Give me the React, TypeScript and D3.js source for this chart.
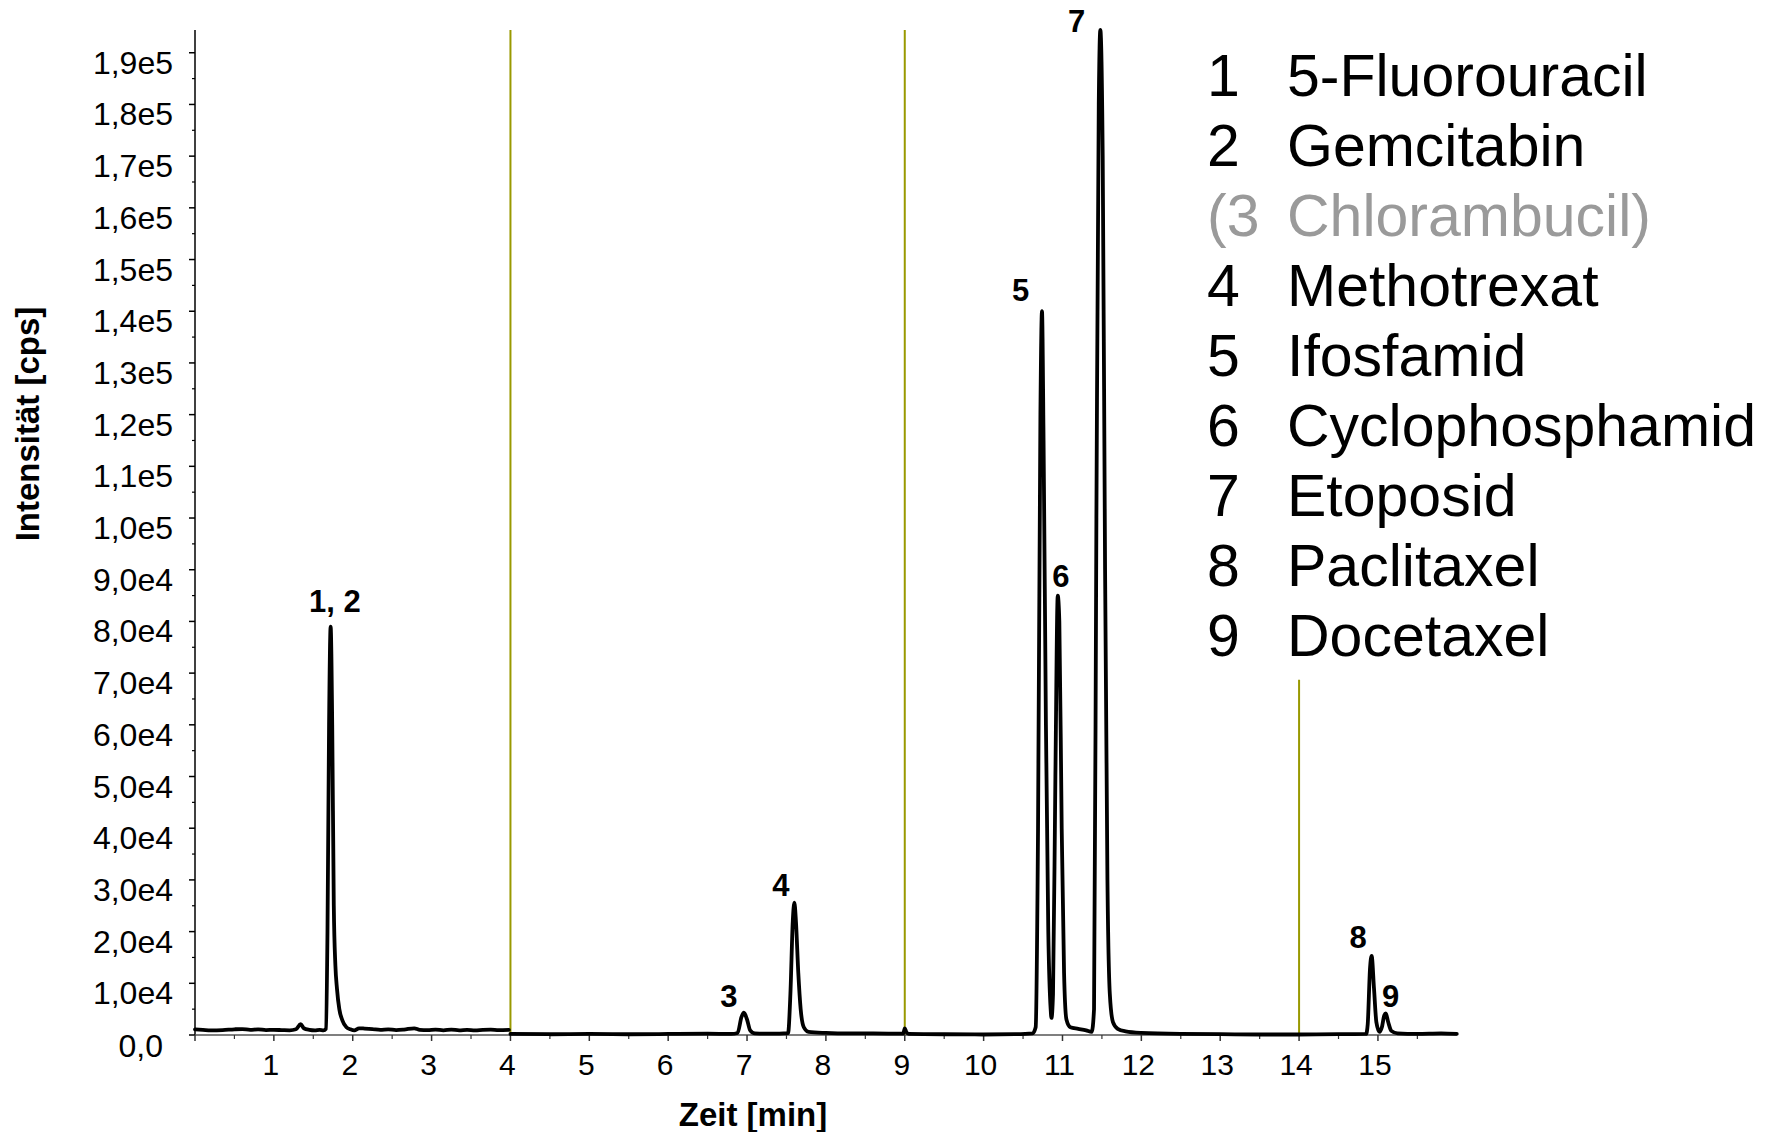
import React from "react";
import * as d3 from "d3";

const W = 1766;
const H = 1132;

// Chromatogram segment 0–4 min (time in min, intensity in cps)
const segATime = [
  0.0, 0.1, 0.2, 0.35, 0.5, 0.6, 0.7, 0.8, 0.9, 1.0, 1.1, 1.2, 1.28, 1.34, 1.38, 1.45, 1.52, 1.58, 1.63,
  1.66, 1.68, 1.7, 1.72, 1.74, 1.76, 1.78, 1.8, 1.83, 1.87, 1.92, 1.97, 2.02, 2.08, 2.15, 2.25, 2.35,
  2.45, 2.55, 2.65, 2.78, 2.85, 2.95, 3.05, 3.15, 3.25, 3.35, 3.45, 3.55, 3.65, 3.75, 3.85, 3.98,
];
const segAIntensity = [
  1100, 1000, 900, 950, 1100, 1150, 1000, 1100, 950, 1000, 950, 900, 1100, 2100, 1300, 1000, 900, 1000, 900,
  1200, 20000, 60000, 79000, 60000, 25000, 13500, 9000, 5000, 2800, 1500, 1100, 900, 1300, 1250, 1150, 1000,
  1100, 950, 1050, 1300, 1000, 950, 1050, 900, 1050, 900, 1000, 900, 1000, 1050, 950, 1000,
];

// Chromatogram segment 4–16 min
const segBTime = [
  4.0, 4.5, 5.0, 5.5, 6.0, 6.5, 6.8, 6.88, 6.93, 6.96, 7.0, 7.04, 7.1, 7.3, 7.52, 7.55, 7.58, 7.6, 7.62,
  7.65, 7.68, 7.72, 7.78, 8.0, 8.3, 8.6, 8.98, 9.0, 9.02, 9.05, 9.5, 10.0, 10.4, 10.62, 10.66, 10.69, 10.72,
  10.74, 10.76, 10.79, 10.82, 10.85, 10.86, 10.88, 10.91, 10.94, 10.96, 10.99, 11.02, 11.05, 11.1, 11.2,
  11.3, 11.37, 11.4, 11.43, 11.46, 11.48, 11.51, 11.54, 11.57, 11.6, 11.64, 11.7, 11.8, 12.0, 12.5, 13.0,
  13.5, 14.0, 14.5, 14.85, 14.87, 14.9, 14.92, 14.95, 14.98, 15.02, 15.05, 15.08, 15.1, 15.13, 15.17,
  15.25, 15.5, 15.8, 16.0,
];
const segBIntensity = [
  200, 150, 200, 150, 200, 250, 200, 400, 3500, 4300, 3000, 900, 300, 250, 350, 8000, 22000, 25600, 22000,
  12000, 5000, 1500, 600, 400, 300, 300, 250, 1300, 600, 200, 150, 100, 150, 300, 1500, 40000, 120000,
  140000, 115000, 60000, 20000, 5000, 3300, 8000, 50000, 85000, 80000, 40000, 12000, 3000, 1500, 1200,
  900, 600, 5000, 100000, 180000, 194400, 170000, 90000, 30000, 8000, 2500, 1200, 700, 400, 200, 150,
  100, 100, 150, 200, 2000, 13000, 15300, 9000, 2500, 600, 1500, 3800, 4200, 2500, 800,
  300, 200, 300, 200,
];

const xMajorTicks = [0, 1, 2, 3, 4, 5, 6, 7, 8, 9, 10, 11, 12, 13, 14, 15];
const xMinorTicks = [0.5, 1.5, 2.5, 3.5, 4.5, 5.5, 6.5, 7.5, 8.5, 9.5, 10.5, 11.5, 12.5, 13.5, 14.5, 15.5];
const yMajorTicks = [
  0, 10000, 20000, 30000, 40000, 50000, 60000, 70000, 80000, 90000, 100000, 110000, 120000, 130000,
  140000, 150000, 160000, 170000, 180000, 190000,
];
const yMinorTicks = [
  5000, 15000, 25000, 35000, 45000, 55000, 65000, 75000, 85000, 95000, 105000, 115000, 125000, 135000,
  145000, 155000, 165000, 175000, 185000,
];

const peakLabels = ["1, 2", "3", "4", "5", "6", "7", "8", "9"];
const peakLabelTime = [1.775, 6.77, 7.43, 10.47, 10.98, 11.18, 14.75, 15.16];
const peakLabelIntensity = [81900, 5400, 26900, 141900, 86700, 194000, 16800, 5400];

const legendNumbers = ["1", "2", "(3", "4", "5", "6", "7", "8", "9"];
const legendNames = [
  "5-Fluorouracil",
  "Gemcitabin",
  "Chlorambucil)",
  "Methotrexat",
  "Ifosfamid",
  "Cyclophosphamid",
  "Etoposid",
  "Paclitaxel",
  "Docetaxel",
];
const legendMuted = [false, false, true, false, false, false, false, false, false];

const markerTimes = [4, 9, 14];
const markerTopIntensity = [194400, 194400, 68700];

const FONT = "'Liberation Sans', Arial, Helvetica, sans-serif";

function fmtY(v: number): string {
  if (v === 0) return "0,0";
  if (v >= 100000) return (v / 100000).toFixed(1).replace(".", ",") + "e5";
  return (v / 10000).toFixed(1).replace(".", ",") + "e4";
}

export default function App() {
  const x = d3.scaleLinear().domain([0, 16]).range([195, 1456.8]);
  const y = d3.scaleLinear().domain([0, 194400]).range([1035, 30]);

  const line = d3
    .line<[number, number]>()
    .x((d) => x(d[0]))
    .y((d) => y(d[1]))
    .curve(d3.curveMonotoneX);

  const segA: [number, number][] = segATime.map((t, i) => [t, segAIntensity[i]]);
  const segB: [number, number][] = segBTime.map((t, i) => [t, segBIntensity[i]]);

  const [x0, x1] = x.range();
  const yBase = y(0);
  const yTop = y.range()[1];

  return (
    <svg
      width={W}
      height={H}
      viewBox={`0 0 ${W} ${H}`}
      style={{ position: "absolute", left: 0, top: 0, display: "block", background: "#fff" }}
      fontFamily={FONT}
    >
      <rect x={0} y={0} width={W} height={H} fill="#fff" />

      {/* olive segment markers */}
      {markerTimes.map((t, i) => (
        <line
          key={"m" + i}
          x1={x(t)}
          x2={x(t)}
          y1={y(markerTopIntensity[i])}
          y2={yBase}
          stroke="#999900"
          strokeWidth={2}
        />
      ))}

      {/* y axis */}
      <line x1={x0} x2={x0} y1={yTop} y2={yBase} stroke="#000" strokeWidth={1.5} />
      {yMajorTicks.map((v) => (
        <g key={"ym" + v}>
          <line x1={x0 - 6} x2={x0} y1={y(v)} y2={y(v)} stroke="#000" strokeWidth={1.5} />
          <text
            x={v === 0 ? 163 : 173}
            y={y(v) + (v === 0 ? 22 : 21)}
            textAnchor="end"
            fontSize={32}
            fill="#000"
          >
            {fmtY(v)}
          </text>
        </g>
      ))}
      {yMinorTicks.map((v) => (
        <line key={"yn" + v} x1={x0 - 3} x2={x0} y1={y(v)} y2={y(v)} stroke="#000" strokeWidth={1.2} />
      ))}

      {/* x axis */}
      <line x1={x0} x2={x1} y1={yBase} y2={yBase} stroke="#555" strokeWidth={1.5} />
      {xMajorTicks.map((t) => (
        <g key={"xm" + t}>
          <line x1={x(t)} x2={x(t)} y1={yBase} y2={yBase + 6} stroke="#333" strokeWidth={1.5} />
          {t > 0 && (
            <text x={x(t) - 3} y={1075} textAnchor="middle" fontSize={30} fill="#000">
              {t}
            </text>
          )}
        </g>
      ))}
      {xMinorTicks.map((t) => (
        <line key={"xn" + t} x1={x(t)} x2={x(t)} y1={yBase} y2={yBase + 4} stroke="#333" strokeWidth={1.2} />
      ))}

      {/* trace */}
      <path d={line(segA) || ""} fill="none" stroke="#000" strokeWidth={3.8} strokeLinejoin="round" strokeLinecap="round" />
      <path d={line(segB) || ""} fill="none" stroke="#000" strokeWidth={3.8} strokeLinejoin="round" strokeLinecap="round" />

      {/* peak labels */}
      {peakLabels.map((lab, i) => (
        <text
          key={"p" + i}
          x={x(peakLabelTime[i])}
          y={y(peakLabelIntensity[i])}
          textAnchor="middle"
          fontSize={31}
          fontWeight="bold"
          fill="#000"
        >
          {lab}
        </text>
      ))}

      {/* axis titles */}
      <text x={753} y={1126} textAnchor="middle" fontSize={33} fontWeight="bold" fill="#000">
        Zeit [min]
      </text>
      <text
        transform="translate(39,424) rotate(-90)"
        textAnchor="middle"
        fontSize={33}
        fontWeight="bold"
        fill="#000"
      >
        Intensität [cps]
      </text>

      {/* legend */}
      {legendNames.map((name, i) => (
        <g key={"l" + i} fill={legendMuted[i] ? "#9a9a9a" : "#000"}>
          <text x={1207} y={96 + i * 70} fontSize={59}>
            {legendNumbers[i]}
          </text>
          <text x={1287} y={96 + i * 70} fontSize={59}>
            {name}
          </text>
        </g>
      ))}
    </svg>
  );
}
